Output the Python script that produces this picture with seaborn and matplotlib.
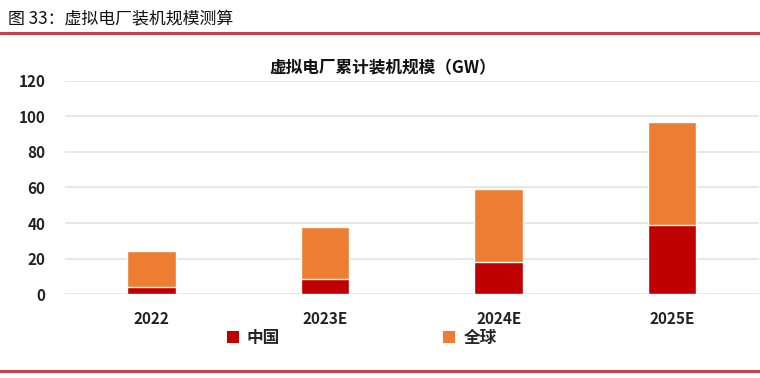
import pandas as pd
import matplotlib.pyplot as plt
import seaborn as sns
from matplotlib.patches import Patch
from matplotlib.lines import Line2D

# 数据
years = ['2022', '2023E', '2024E', '2025E']
china = [3.8, 8.3, 18.0, 39.0]
world = [20.7, 29.2, 41.0, 58.0]   # 堆叠在中国之上的全球部分

df = pd.DataFrame({'年份': years, '中国': china, '全球': world})
df['合计'] = df['中国'] + df['全球']

sns.set_style('white')
plt.rcParams['font.family'] = ['Noto Sans CJK SC', 'DejaVu Sans']

red = '#C00000'
orange = '#ED7D31'

fig = plt.figure(figsize=(7.6, 3.78), dpi=100)
ax = fig.add_axes([0.0855, 0.222, 0.913, 0.564])

# 先画合计（橙色），再画中国（红色）覆盖在底部
sns.barplot(data=df, x='年份', y='合计', color=orange, width=0.28,
            edgecolor='white', linewidth=1, saturation=1, ax=ax, zorder=3)
sns.barplot(data=df, x='年份', y='中国', color=red, width=0.28,
            edgecolor='white', linewidth=1, saturation=1, ax=ax, zorder=4)

ax.set_ylim(0, 120)
ax.set_xlim(-0.5, 3.5)
ax.set_yticks(range(0, 121, 20))
ax.yaxis.grid(True, color='#e3e3e3', linewidth=1.2, zorder=0)
ax.set_axisbelow(True)
for s in ax.spines.values():
    s.set_visible(False)
ax.set_xlabel('')
ax.set_ylabel('')
ax.tick_params(axis='both', length=0, labelsize=11, colors='#222222')
ax.tick_params(axis='x', pad=12)
ax.tick_params(axis='y', pad=14)
for lab in ax.get_xticklabels() + ax.get_yticklabels():
    lab.set_fontweight('bold')

# 图表标题
fig.text(0.504, 0.82, '虚拟电厂累计装机规模（GW）', ha='center', va='center',
         fontsize=12, fontweight='bold', color='#111111')

# 页眉
fig.text(0.011, 0.952, '图 33：虚拟电厂装机规模测算', ha='left', va='center',
         fontsize=12.2, color='#111111')
fig.add_artist(Line2D([0, 1], [0.913, 0.913], color='#C8414B', linewidth=2.2))
fig.add_artist(Line2D([0, 1], [0.018, 0.018], color='#C8414B', linewidth=2.2))

# 图例
handles = [Patch(facecolor=red, edgecolor='none'), Patch(facecolor=orange, edgecolor='none')]
leg = fig.legend(handles, ['中国', '全球'], loc='center', bbox_to_anchor=(0.476, 0.106),
                 ncol=2, frameon=False, handlelength=0.7, handleheight=0.7,
                 handletextpad=0.5, columnspacing=9.8,
                 prop={'size': 12, 'weight': 'bold'})

fig.savefig('out.png', dpi=100)
